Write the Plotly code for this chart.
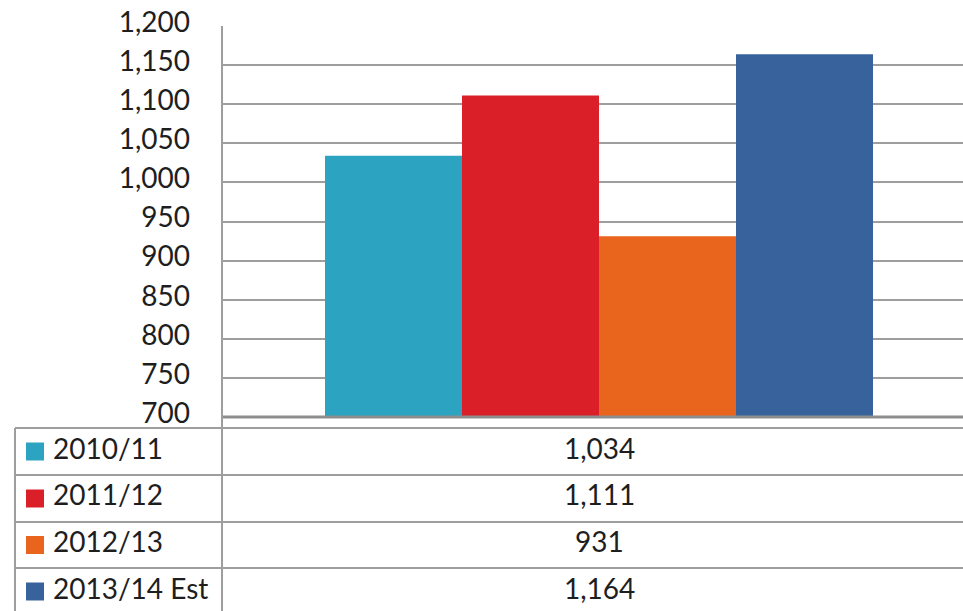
import plotly.graph_objects as go

# Series shown as bars and in the data table below the plot
seasons = ["2010/11", "2011/12", "2012/13", "2013/14 Est"]
values = [1034, 1111, 931, 1164]
colors = ["#2CA3C0", "#DA1F29", "#E9641D", "#37629B"]
y_ticks = [700, 750, 800, 850, 900, 950, 1000, 1050, 1100, 1150, 1200]

W, H = 963, 611
L, T, B = 222, 26, 417          # plot area left / top / bottom in px
PLOT_W = W - L
CAT_W = 754                      # width of the single category band in px
GROUP = 548                      # width of the bar group in px

FONT = "Lato"
FSIZE = 28
GRID = "#9E9E9E"
TXT = "#1E1E1E"

fig = go.Figure()
bar_w = GROUP / CAT_W / len(values)
for i, (name, v, c) in enumerate(zip(seasons, values, colors)):
    fig.add_trace(go.Bar(
        x=[0], y=[v], name=name, marker=dict(color=c, line=dict(width=0)),
        width=[bar_w], offset=[-GROUP / CAT_W / 2 + i * bar_w],
        showlegend=False,
    ))

fig.update_layout(
    width=W, height=H,
    margin=dict(l=L, r=0, t=T, b=H - B, pad=0),
    plot_bgcolor="white", paper_bgcolor="white",
    barmode="overlay",
    font=dict(family=FONT, size=FSIZE, color=TXT),
    xaxis=dict(range=[-0.5, -0.5 + PLOT_W / CAT_W], showticklabels=False,
               showgrid=False, zeroline=False, showline=False, fixedrange=True),
    yaxis=dict(range=[700, 1200], tickvals=y_ticks, tickformat=",",
               showgrid=True, gridcolor=GRID, gridwidth=2, zeroline=False,
               showline=False, ticks="", ticklabelstandoff=31, ticklabelshift=-4,
               tickfont=dict(family=FONT, size=FSIZE, color=TXT)),
)


def px_x(x):
    return (x - L) / PLOT_W


def px_y(y):
    return (B - y) / (B - T)


shapes = []
line = dict(color=GRID, width=2)
# baseline of the value axis
shapes.append(dict(type="line", xref="paper", yref="paper", x0=0, x1=1,
                   y0=px_y(B), y1=px_y(B), line=dict(color="#8E8E8E", width=3)))
# data table grid
row_tops = [428, 475, 522, 568, 615]
for yy in row_tops[:-1]:
    shapes.append(dict(type="line", xref="paper", yref="paper", x0=px_x(15), x1=1,
                       y0=px_y(yy), y1=px_y(yy), line=line))
shapes.append(dict(type="line", xref="paper", yref="paper", x0=px_x(15), x1=px_x(15),
                   y0=px_y(row_tops[0]), y1=px_y(H + 5), line=line))
shapes.append(dict(type="line", xref="paper", yref="paper", x0=0, x1=0,
                   y0=1, y1=px_y(H + 5), line=line))

annotations = []
for i, (name, v, c) in enumerate(zip(seasons, values, colors)):
    cy = (row_tops[i] + row_tops[i + 1]) / 2
    ty = cy - 4
    # legend key
    shapes.append(dict(type="rect", xref="paper", yref="paper",
                       x0=px_x(26), x1=px_x(44), y0=px_y(cy - 9), y1=px_y(cy + 9),
                       fillcolor=c, line=dict(width=0)))
    annotations.append(dict(xref="paper", yref="paper", x=px_x(51), y=px_y(ty),
                            text=name, showarrow=False, xanchor="left", yanchor="middle",
                            font=dict(family=FONT, size=FSIZE, color=TXT)))
    annotations.append(dict(xref="x", yref="paper", x=0, y=px_y(ty),
                            text=f"{v:,}", showarrow=False, xanchor="center",
                            yanchor="middle",
                            font=dict(family=FONT, size=FSIZE, color=TXT)))

fig.update_layout(shapes=shapes, annotations=annotations)
fig.write_html("out.html")
